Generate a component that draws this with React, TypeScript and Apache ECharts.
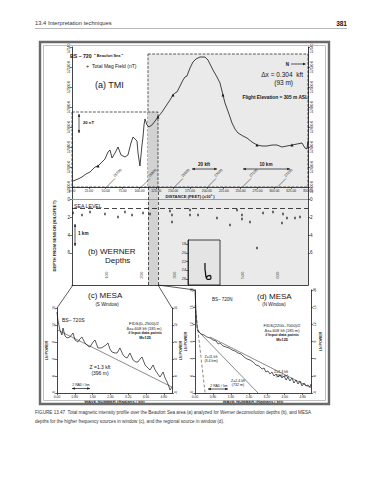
import React, { useEffect, useRef } from "react";
import * as echarts from "echarts";

const FONT = "'Liberation Sans', Arial, Helvetica, sans-serif";

// (a) Total magnetic intensity profile: distance (kft) vs total field (nT)
const tmiDistance = [1.5, 8.9, 14.8, 20.8, 26.7, 34.1, 38.6, 43.0, 48.9, 53.4, 56.4, 59.3, 63.8, 68.2, 72.7, 78.6, 83.0, 87.5, 90.5, 93.4, 96.4, 97.9, 100.8, 103.8, 105.3, 106.8, 108.3, 111.2, 114.2, 118.6, 123.1, 127.5, 133.5, 139.4, 145.3, 149.8, 152.7, 155.7, 160.2, 164.6, 167.6, 170.5, 175.0, 179.4, 183.9, 189.8, 197.2, 201.7, 206.1, 209.1, 215.0, 219.5, 223.9, 226.9, 232.8, 237.3, 241.7, 246.2, 253.6, 259.5, 266.9, 274.4, 281.8, 289.2, 296.6, 304.0, 311.4, 318.8, 326.3, 333.7, 341.1, 345.5, 348.5, 350];
const tmiField = [57406, 57408, 57410, 57413, 57415, 57420, 57421, 57424, 57428, 57435, 57437, 57429, 57434, 57440, 57432, 57430, 57432, 57444, 57450, 57448, 57446, 57434, 57421, 57442, 57450, 57462, 57468, 57462, 57460, 57462, 57466, 57470, 57475, 57481, 57487, 57492, 57494, 57495, 57501, 57507, 57510, 57511, 57519, 57525, 57528, 57530, 57530, 57527, 57521, 57517, 57510, 57504, 57492, 57484, 57473, 57464, 57458, 57454, 57451, 57449, 57445, 57442, 57441, 57441, 57442, 57442, 57440, 57441, 57442, 57443, 57444, 57439, 57438, 57446];
const tmiMarkerIndex = [6, 31, 35, 52, 61, 68];
const tmiMin = 57400;
const tmiMax = 57540;
const distanceTicks = 25;

// windows (kft) and their tops on the TMI scale (nT)
const sWindow = [0, 127.5];
const nWindow = [112.7, 350];
const sWindowTop = 57475;
const nWindowTop = 57533;

// fiducials
const fidDistance = [51.9, 103.8, 152.7, 201.7, 253.6, 305.5];
const fidTopLabels = ["26700", "26800", "26900", "27000", "27100", "27200"];
const fidBottomLabels = ["100", "200", "300", "400", "500", "600"];
const fidLabelDepth = 8.5;

// (b) Werner depths (kft below sensor)
const wernerDistance = [1.5, 14.8, 26.7, 48.9, 68.2, 78.6, 89.0, 105.3, 115.7, 145.3, 148.3, 148.3, 175.0, 175.0, 186.9, 215.0, 234.3, 244.7, 252.1, 252.1, 264.0, 274.4, 283.3, 298.1, 311.4, 312.9, 318.8, 330.7, 338.1];
const wernerDepth = [1.52, 1.74, 1.40, 1.63, 1.97, 1.40, 1.74, 1.52, 1.63, 1.29, 1.74, 2.53, 1.18, 1.74, 1.74, 2.08, 2.87, 1.18, 1.74, 2.19, 2.53, 5.45, 1.52, 1.40, 2.64, 1.63, 2.08, 2.08, 1.97];
const seaLevelDepth = 1.0;
const depthTicks = [0, 2, 4, 6];

// inset: deep solutions
const insetDistance = [197.2, 197.2, 198.0, 198.7, 200.9, 203.9, 206.1, 204.7, 201.7, 199.5];
const insetDepth = [22.3, 23.5, 24.6, 25.5, 26.1, 26.1, 25.7, 25.2, 25.3, 25.7];
const insetTicks = [18, 20, 22, 24, 26];

// (c) MESA S window: wave number (rad/kft) vs ln power
const mesaSWave = [0.00, 0.04, 0.13, 0.22, 0.27, 0.36, 0.45, 0.58, 0.72, 0.81, 0.94, 1.03, 1.12, 1.26, 1.39, 1.48, 1.62, 1.71, 1.84, 1.98, 2.07, 2.20, 2.29, 2.38, 2.47, 2.61, 2.70, 2.83, 2.97, 3.06, 3.15, 3.28, 3.42, 3.55, 3.64, 3.73, 3.82, 3.96, 4.09, 4.18, 4.32, 4.41, 4.50, 4.63, 4.77, 4.86, 4.95, 5.04, 5.08, 5.17];
const mesaSPower = [15.06, 13.18, 10.82, 9.65, 11.29, 9.41, 8.94, 9.18, 10.12, 8.47, 8.00, 8.71, 9.18, 7.76, 7.06, 6.82, 8.00, 8.47, 6.59, 6.59, 6.82, 7.29, 7.76, 6.35, 5.65, 5.41, 5.41, 6.59, 4.94, 4.47, 4.24, 5.41, 3.76, 3.29, 3.29, 4.00, 4.47, 2.59, 1.88, 1.41, 2.59, 1.41, 0.71, -0.24, 0.94, -0.47, -1.41, -2.59, -3.29, -2.59];
const mesaSFitWave = [0.04, 5.17];
const mesaSFitPower = [10.8, -2.6];

// (d) MESA N window
const mesaNWave = [0, 0.02, 0.04, 0.07, 0.09, 0.18, 0.27, 0.40, 0.53, 0.67, 0.80, 0.94, 1.03, 1.11, 1.25, 1.38, 1.52, 1.65, 1.78, 1.92, 2.05, 2.19, 2.32, 2.45, 2.59, 2.72, 2.85, 2.99, 3.08, 3.16, 3.25, 3.34, 3.43, 3.52, 3.61, 3.70, 3.79, 3.88, 3.97, 4.06, 4.14, 4.23, 4.32, 4.41, 4.50, 4.59, 4.68, 4.77, 4.86, 4.95, 5.04, 5.13, 5.17];
const mesaNPower = [19.77, 17.67, 15.34, 13.01, 11.15, 10.21, 9.75, 9.52, 9.05, 8.82, 8.35, 8.12, 7.42, 7.65, 6.95, 6.72, 6.49, 6.02, 5.79, 5.32, 5.09, 4.39, 3.92, 3.69, 3.22, 2.53, 2.29, 1.59, 1.83, 0.89, 1.13, 0.43, 0.89, -0.04, 0.43, -0.27, 0.20, -0.50, -0.04, -0.97, -0.27, -1.20, -0.50, -1.67, -0.97, -1.90, -1.20, -2.37, -1.67, -2.37, -2.14, -2.60, -1.90];
const mesaNFitDeepWave = [0.0, 0.45];
const mesaNFitDeepPower = [16.5, -4];
const mesaNFitMidWave = [0.09, 2.81];
const mesaNFitMidPower = [10.7, -4];
const mesaNFitShallowWave = [0.67, 5.17];
const mesaNFitShallowPower = [9.05, -2.8];
const waveTicks = [0, 0.8, 1.6, 2.4, 3.2, 4.0, 4.8];

const zip = (a: number[], b: number[]) => a.map((v, i) => [v, b[i]]);

function txt(x: number, y: number, text: string, size: number, o: any = {}) {
  return {
    type: "text", x, y, rotation: o.rot || 0, z: 100, silent: true,
    style: {
      text, fontSize: size, fontFamily: FONT, fontWeight: o.bold ? "bold" : "normal",
      fill: o.fill || "#151515", align: o.align || "left", verticalAlign: o.va || "middle",
    },
  };
}
function seg(x1: number, y1: number, x2: number, y2: number, o: any = {}) {
  return {
    type: "line", z: 100, silent: true, shape: { x1, y1, x2, y2 },
    style: { stroke: o.stroke || "#151515", lineWidth: o.w || 0.7, lineDash: o.dash || null },
  };
}
function poly(points: number[][]) {
  return { type: "polygon", z: 100, silent: true, shape: { points }, style: { fill: "#151515" } };
}
function dArrowH(x1: number, x2: number, y: number) {
  return [
    seg(x1, y, x2, y),
    poly([[x1, y], [x1 + 2.8, y - 1.2], [x1 + 2.8, y + 1.2]]),
    poly([[x2, y], [x2 - 2.8, y - 1.2], [x2 - 2.8, y + 1.2]]),
  ];
}
function dArrowV(x: number, y1: number, y2: number) {
  return [
    seg(x, y1, x, y2),
    poly([[x, y1], [x - 1.2, y1 + 2.8], [x + 1.2, y1 + 2.8]]),
    poly([[x, y2], [x - 1.2, y2 - 2.8], [x + 1.2, y2 - 2.8]]),
  ];
}

function baseGraphics() {
  return [
    txt(35, 23, "13.4 Interpretation techniques", 5.8, { fill: "#333" }),
    txt(347, 23, "381", 6.5, { bold: true, align: "right" }),
    seg(35, 28.5, 347, 28.5, { stroke: "#888", w: 0.6 }),
    { type: "rect", z: 99, silent: true, shape: { x: 40, y: 42, width: 289, height: 362 }, style: { fill: "none", stroke: "#6a6a6a", lineWidth: 2.4 } },
    { type: "rect", z: 99, silent: true, shape: { x: 43.5, y: 45.5, width: 282, height: 355 }, style: { fill: "none", stroke: "#b0b0b0", lineWidth: 0.8 } },
    // (a)
    txt(70, 56, "BS – 720", 5.2, { bold: true }),
    txt(94, 56, "\" Beaufort Sea \"", 3.8, { bold: true }),
    txt(86, 66, "+", 5.5),
    txt(92, 66, "Total Mag Field (nT)", 5),
    txt(95, 85, "(a) TMI", 9),
    ...dArrowV(79, 114, 133),
    txt(83, 122, "20 nT", 4.2, { bold: true }),
    txt(289, 64, "N", 4.5, { bold: true, align: "right" }),
    seg(291, 64, 305, 64),
    poly([[306, 64], [303, 62.8], [303, 65.2]]),
    txt(303, 74, "Δx = 0.304  kft", 6.5, { align: "right" }),
    txt(293, 82, "(93 m)", 6.5, { align: "right" }),
    txt(308, 97, "Flight Elevation = 305 m ASL", 4.8, { bold: true, align: "right" }),
    txt(204, 164, "20 kft", 4.6, { bold: true, align: "center" }),
    ...dArrowH(192, 217, 169),
    txt(266, 164, "10 km", 4.6, { bold: true, align: "center" }),
    ...dArrowH(243, 290, 169),
    // (b)
    txt(74, 205.5, "SEA LEVEL", 5.2),
    ...dArrowV(75, 224, 246),
    txt(78, 233, "1 km", 4.6, { bold: true }),
    txt(88, 251, "(b) WERNER", 8),
    txt(105, 260, "Depths", 8),
    // connectors
    seg(73, 285, 57, 308),
    seg(158, 285, 172, 308),
    seg(158, 285, 195, 290),
    // (c)
    txt(88, 295, "(c) MESA", 8),
    txt(107, 304, "(S Window)", 4.5, { align: "center" }),
    txt(62, 320, "BS– 720S", 5),
    txt(144, 323, "FIDS(0–2500)/2", 4.2, { align: "center" }),
    txt(144, 328, "Δx=.608 kft (185 m)", 4, { align: "center" }),
    txt(145, 333, "# Input data points", 3.8, { bold: true, align: "center" }),
    txt(145, 338, "M=125", 3.8, { bold: true, align: "center" }),
    txt(100, 367, "Z =1.3 kft", 5, { align: "center" }),
    txt(100, 372.5, "(396 m)", 5, { align: "center" }),
    txt(81, 384.5, "2 RAD / km", 3.4, { align: "center" }),
    ...dArrowH(72, 90, 388.5),
    // (d)
    txt(257, 296, "(d) MESA", 8),
    txt(274, 304.5, "(N Window)", 4.5, { align: "center" }),
    txt(212, 299, "BS– 720N", 4.5),
    txt(282, 325, "FIDS(2200–7000)/2", 4.2, { align: "center" }),
    txt(282, 330, "Δx=.608 kft (185 m)", 4, { align: "center" }),
    txt(282, 335, "# Input data points", 3.8, { bold: true, align: "center" }),
    txt(282, 339.5, "M=125", 3.8, { bold: true, align: "center" }),
    txt(211, 357, "Z=11 kft", 3.6, { align: "center" }),
    txt(211, 361, "(3.4 km)", 3.6, { align: "center" }),
    txt(238, 381, "Z=2.4 kft", 3.6, { align: "center" }),
    txt(238, 385, "(732 m)", 3.6, { align: "center" }),
    txt(281, 372, "Z=1.3 kft", 3.6, { align: "center" }),
    txt(282, 376, "(396 m)", 3.6, { align: "center" }),
    txt(219, 385.5, "2 RAD / km", 3.4, { align: "center" }),
    ...dArrowH(208, 228, 389),
    // caption
    txt(35, 412, "FIGURE 13.47  Total magnetic intensity profile over the Beaufort Sea area (a) analyzed for Werner deconvolution depths (b), and MESA", 4.6, { fill: "#333" }),
    txt(35, 421, "depths for the higher frequency sources in window (c), and the regional source in window (d).", 4.6, { fill: "#333" }),
  ];
}

const LINE = { color: "#151515", width: 0.8 };
function ax(o: any) {
  const { axisLabel = {}, axisTick = {}, axisLine = {}, ...rest } = o;
  return {
    type: "value",
    z: 3,
    splitLine: { show: false },
    axisLine: { onZero: false, lineStyle: LINE, ...axisLine },
    axisTick: { length: 2, lineStyle: { color: "#151515", width: 0.6 }, ...axisTick },
    axisLabel: { fontSize: 3.6, color: "#222", fontFamily: FONT, margin: 2, ...axisLabel },
    nameTextStyle: { fontSize: 4.2, color: "#222", fontFamily: FONT, fontWeight: "bold" },
    ...rest,
  };
}

export default function App() {
  const ref = useRef<HTMLDivElement>(null);
  useEffect(() => {
    const chart = echarts.init(ref.current!, null, { renderer: "svg" });
    const option: any = {
      animation: false,
      backgroundColor: "#ffffff",
      grid: [
        { left: 72, top: 47, width: 236, height: 140 },
        { left: 72, top: 187, width: 236, height: 98 },
        { left: 188, top: 240, width: 32, height: 45, show: true, backgroundColor: "#e4e4e4", borderColor: "#151515", borderWidth: 0.8, z: 4 },
        { left: 57, top: 308, width: 115, height: 85 },
        { left: 195, top: 290, width: 116, height: 103 },
      ],
      xAxis: [
        ax({ gridIndex: 0, min: 0, max: 350, interval: distanceTicks, name: "DISTANCE (FEET) (x10³ )", nameLocation: "middle", nameGap: 7, axisLabel: { fontSize: 3.3, formatter: (v: number) => v.toFixed(2) } }),
        ax({ gridIndex: 1, min: 0, max: 350, axisLabel: { show: false }, axisTick: { show: false } }),
        { gridIndex: 2, type: "value", min: 172, max: 219.5, show: false },
        ax({ gridIndex: 3, min: 0, max: 5.17, name: "WAVE NUMBER (Radians / kft)", nameLocation: "middle", nameGap: 6, axisLabel: { fontSize: 3.3, customValues: waveTicks, formatter: (v: number) => v.toFixed(2) }, axisTick: { customValues: waveTicks } }),
        ax({ gridIndex: 4, min: 0, max: 5.17, name: "WAVE NUMBER (Radians / kft)", nameLocation: "middle", nameGap: 6, axisLabel: { fontSize: 3.3, customValues: waveTicks, formatter: (v: number) => v.toFixed(2) }, axisTick: { customValues: waveTicks } }),
      ],
      yAxis: [
        ax({ gridIndex: 0, min: tmiMin, max: tmiMax, interval: 20, position: "left", axisLabel: { rotate: 90, fontSize: 3.3, formatter: (v: number) => v.toFixed(1) } }),
        ax({ gridIndex: 0, min: tmiMin, max: tmiMax, interval: 20, position: "right", minorTick: { show: true, splitNumber: 4, length: 1.2, lineStyle: { color: "#151515", width: 0.4 } }, axisLabel: { rotate: 90, fontSize: 3.3, formatter: (v: number) => v.toFixed(1) } }),
        ax({ gridIndex: 1, inverse: true, min: -1.4, max: 9.6, position: "left", name: "DEPTH FROM SENSOR (KILOFEET)", nameLocation: "middle", nameGap: 10, axisLabel: { fontSize: 4.6, customValues: depthTicks }, axisTick: { customValues: depthTicks } }),
        ax({ gridIndex: 1, inverse: true, min: -1.4, max: 9.6, position: "right", axisLabel: { fontSize: 4.6, customValues: depthTicks }, axisTick: { customValues: depthTicks } }),
        ax({ gridIndex: 2, inverse: true, min: 17, max: 27.4, position: "left", z: 6, axisLabel: { fontSize: 3.8, customValues: insetTicks }, axisTick: { customValues: insetTicks } }),
        ax({ gridIndex: 3, min: -4, max: 16, interval: 4, position: "left", name: "LN POWER", nameLocation: "middle", nameGap: 8, nameTextStyle: { fontSize: 3.6, fontFamily: FONT, color: "#222", fontWeight: "bold" }, axisLabel: { rotate: 90, fontSize: 3.3 } }),
        ax({ gridIndex: 3, min: -4, max: 16, interval: 4, position: "right", name: "LN POWER", nameLocation: "middle", nameGap: 7, nameTextStyle: { fontSize: 3.6, fontFamily: FONT, color: "#222", fontWeight: "bold" }, axisLabel: { rotate: 90, fontSize: 3.3 } }),
        ax({ gridIndex: 4, min: -4, max: 20, interval: 4, position: "left", name: "LN POWER", nameLocation: "middle", nameGap: 7, nameTextStyle: { fontSize: 3.6, fontFamily: FONT, color: "#222", fontWeight: "bold" }, axisLabel: { rotate: 90, fontSize: 3.3 } }),
        ax({ gridIndex: 4, min: -4, max: 20, interval: 4, position: "right", name: "LN POWER", nameLocation: "middle", nameGap: 8, nameTextStyle: { fontSize: 3.6, fontFamily: FONT, color: "#222", fontWeight: "bold" }, axisLabel: { rotate: 90, fontSize: 3.3 } }),
      ],
      series: [
        {
          type: "line", xAxisIndex: 0, yAxisIndex: 0, z: 3,
          data: zip(tmiDistance, tmiField),
          symbol: "triangle", showSymbol: true,
          symbolSize: (_v: any, p: any) => (tmiMarkerIndex.includes(p.dataIndex) ? 3 : 0),
          itemStyle: { color: "#151515" },
          lineStyle: { color: "#151515", width: 0.8 },
          markArea: {
            silent: true,
            data: [
              [{ xAxis: nWindow[0], yAxis: nWindowTop, itemStyle: { color: "#eaeaea", borderColor: "#151515", borderWidth: 0.7, borderType: "dashed" } }, { xAxis: nWindow[1], yAxis: tmiMin }],
              [{ xAxis: nWindow[0], yAxis: sWindowTop, itemStyle: { color: "#d2d2d2" } }, { xAxis: sWindow[1], yAxis: tmiMin }],
              [{ xAxis: sWindow[0], yAxis: sWindowTop, itemStyle: { color: "rgba(0,0,0,0)", borderColor: "#151515", borderWidth: 0.7, borderType: "dashed" } }, { xAxis: sWindow[1], yAxis: tmiMin }],
            ],
          },
        },
        {
          type: "scatter", xAxisIndex: 1, yAxisIndex: 2, z: 2,
          data: zip(wernerDistance, wernerDepth),
          symbol: "rect", symbolSize: [1.5, 2.6],
          itemStyle: { color: "#111" },
          markArea: {
            silent: true,
            data: [
              [{ xAxis: nWindow[0], itemStyle: { color: "#eaeaea" } }, { xAxis: nWindow[1] }],
              [{ xAxis: nWindow[0], itemStyle: { color: "#d2d2d2" } }, { xAxis: sWindow[1] }],
            ],
          },
          markLine: {
            silent: true, symbol: "none", label: { show: false },
            data: [
              { yAxis: 0, lineStyle: { type: "solid", color: "#9a9a9a", width: 1 } },
              { yAxis: seaLevelDepth, lineStyle: { type: [5, 3], color: "#151515", width: 0.8 } },
              { xAxis: nWindow[0], lineStyle: { type: [3, 2], color: "#151515", width: 0.7 } },
              { xAxis: sWindow[1], lineStyle: { type: [3, 2], color: "#151515", width: 0.7 } },
            ],
          },
        },
        {
          type: "scatter", xAxisIndex: 1, yAxisIndex: 2, z: 2,
          data: fidDistance.map((d) => [d, fidLabelDepth]),
          symbolSize: 0.1, itemStyle: { color: "rgba(0,0,0,0)" },
          label: { show: true, position: "inside", rotate: 90, fontSize: 4.4, color: "#151515", fontFamily: FONT, formatter: (p: any) => fidBottomLabels[p.dataIndex] },
        },
        {
          type: "line", xAxisIndex: 2, yAxisIndex: 4, z: 6,
          data: zip(insetDistance, insetDepth), symbol: "none", smooth: true,
          lineStyle: { color: "#151515", width: 1.3 },
        },
        {
          type: "line", xAxisIndex: 3, yAxisIndex: 5,
          data: zip(mesaSWave, mesaSPower), symbol: "none",
          lineStyle: { color: "#151515", width: 0.7 },
        },
        {
          type: "line", xAxisIndex: 3, yAxisIndex: 5,
          data: zip(mesaSFitWave, mesaSFitPower), symbol: "none",
          lineStyle: { color: "#151515", width: 0.5 },
        },
        {
          type: "line", xAxisIndex: 4, yAxisIndex: 7,
          data: zip(mesaNWave, mesaNPower), symbol: "none",
          lineStyle: { color: "#151515", width: 0.7 },
        },
        {
          type: "line", xAxisIndex: 4, yAxisIndex: 7,
          data: zip(mesaNFitDeepWave, mesaNFitDeepPower), symbol: "none",
          lineStyle: { color: "#151515", width: 0.5, type: [3, 2] },
        },
        {
          type: "line", xAxisIndex: 4, yAxisIndex: 7,
          data: zip(mesaNFitMidWave, mesaNFitMidPower), symbol: "none",
          lineStyle: { color: "#151515", width: 0.5 },
        },
        {
          type: "line", xAxisIndex: 4, yAxisIndex: 7,
          data: zip(mesaNFitShallowWave, mesaNFitShallowPower), symbol: "none",
          lineStyle: { color: "#151515", width: 0.5 },
        },
      ],
    };
    chart.setOption(option);
    const fidEls: any[] = [];
    fidDistance.forEach((d, i) => {
      const p = chart.convertToPixel({ gridIndex: 0 } as any, [d, tmiMin]) as number[];
      if (!p) return;
      fidEls.push(seg(p[0], p[1] - 0.5, p[0] + 8, p[1] - 8.5, { w: 0.5 }));
      fidEls.push(txt(p[0] + 8.5, p[1] - 9, fidTopLabels[i], 3.6, { rot: Math.PI / 4, va: "bottom" }));
    });
    chart.setOption({ graphic: { elements: [...baseGraphics(), ...fidEls] } });
    return () => chart.dispose();
  }, []);
  return <div ref={ref} style={{ position: "absolute", left: 0, top: 0, width: 369, height: 480 }} />;
}
